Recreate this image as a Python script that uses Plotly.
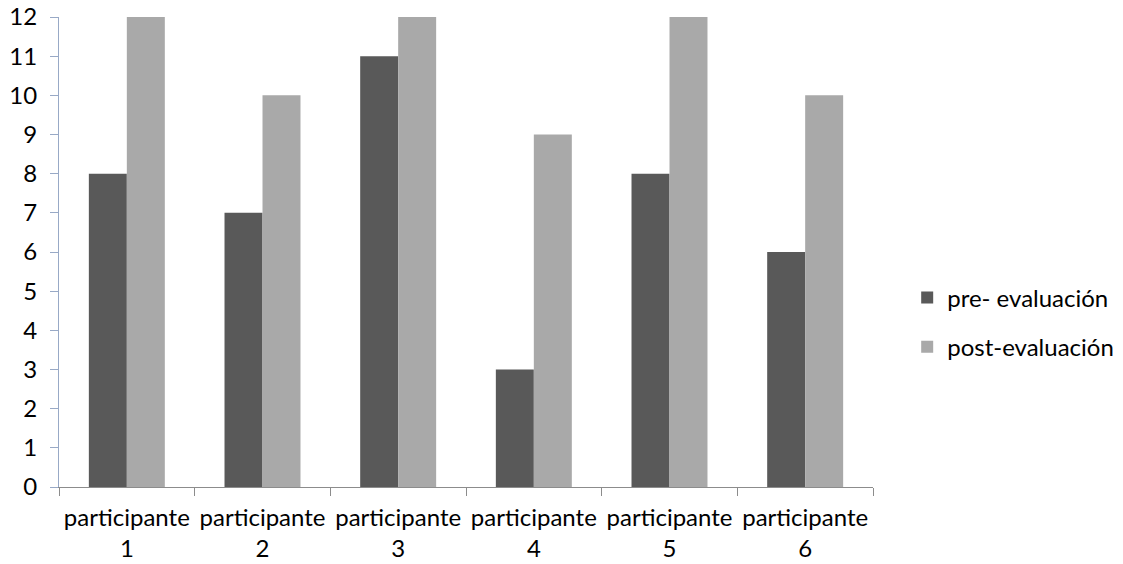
import plotly.graph_objects as go

categories = ["participante<br>1", "participante<br>2", "participante<br>3",
              "participante<br>4", "participante<br>5", "participante<br>6"]
pre_eval = [8, 7, 11, 3, 8, 6]
post_eval = [12, 10, 12, 9, 12, 10]
y_ticks = list(range(0, 13))

FONT = "Lato"
FS = 24

fig = go.Figure()
fig.add_trace(go.Bar(x=categories, y=pre_eval, name="pre- evaluación",
                     marker=dict(color="#595959", line=dict(width=0)),
                     legendgroup="a"))
fig.add_trace(go.Bar(x=categories, y=post_eval, name="post-evaluación",
                     marker=dict(color="#A9A9A9", line=dict(width=0)),
                     legendgroup="b"))

fig.update_layout(
    width=1123, height=564,
    margin=dict(l=59, r=250, t=17, b=77, autoexpand=False),
    paper_bgcolor="white", plot_bgcolor="white",
    barmode="group", bargap=0.44, bargroupgap=0,
    font=dict(family=FONT, size=FS, color="#000000"),
    showlegend=True,
    # legend sits just to the right of the plotting area
    legend=dict(x=1.042, y=0.35, xanchor="left", yanchor="middle",
                traceorder="grouped", tracegroupgap=15,
                itemwidth=30, bgcolor="rgba(0,0,0,0)",
                font=dict(family=FONT, size=FS, color="#000000")),
)
fig.update_xaxes(
    showline=True, linecolor="#8C8C8C", linewidth=1,
    ticks="outside", tickson="boundaries", ticklen=8, tickcolor="#8C8C8C",
    showgrid=False, automargin=False, ticklabelstandoff=9,
    tickfont=dict(family=FONT, size=FS),
)
fig.update_yaxes(
    range=[0, 12], tickvals=y_ticks, showline=True, linecolor="#98A9C6",
    linewidth=1, ticks="outside", ticklen=8, tickcolor="#98A9C6",
    showgrid=False, zeroline=False, automargin=False, ticklabelstandoff=8,
    tickfont=dict(family=FONT, size=FS),
)

fig.write_html("out.html")
